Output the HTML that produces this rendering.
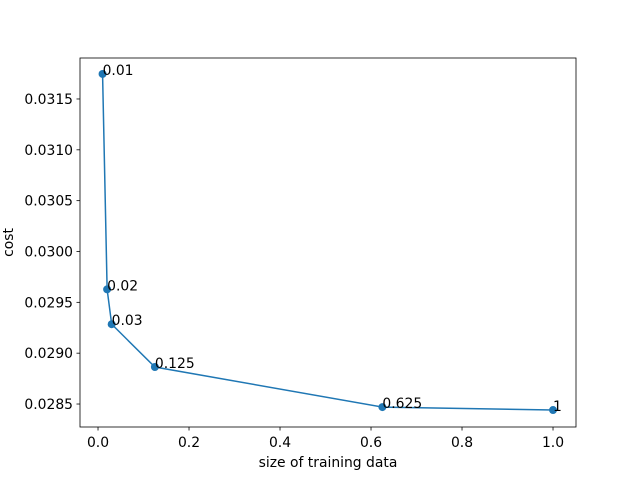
<!DOCTYPE html>
<html><head><meta charset="utf-8"><style>
body{margin:0;background:#fff;}
svg{display:block;font-family:"DejaVu Sans","Liberation Sans",sans-serif;}
</style></head><body>
<svg id="chart" width="640" height="480" xmlns="http://www.w3.org/2000/svg">
<rect x="0" y="0" width="640" height="480" fill="#fff"/>
<g id="plot"></g>
</svg>
<script>
const xValues=[0.01,0.02,0.03,0.125,0.625,1];
const yValues=[0.031746,0.029628,0.029285,0.028864,0.028470,0.028441];
const pointLabels=["0.01","0.02","0.03","0.125","0.625","1"];
const xTicks=[0.0,0.2,0.4,0.6,0.8,1.0];
const xTickLabels=["0.0","0.2","0.4","0.6","0.8","1.0"];
const yTicks=[0.0285,0.0290,0.0295,0.0300,0.0305,0.0310,0.0315];
const yTickLabels=["0.0285","0.0290","0.0295","0.0300","0.0305","0.0310","0.0315"];
const L=80,R=576,T=58,B=427;
const xMin=-0.0396,xMax=1.0505,yMin=0.028274,yMax=0.031903;
const sx=v=>L+(v-xMin)/(xMax-xMin)*(R-L);
const sy=v=>B-(v-yMin)/(yMax-yMin)*(B-T);
const NS="http://www.w3.org/2000/svg";
const FS=13.9;
const g=document.getElementById('plot');
function mk(t,a,txt){const e=document.createElementNS(NS,t);for(const k in a)e.setAttribute(k,a[k]);if(txt!==undefined)e.textContent=txt;g.appendChild(e);return e;}
xTicks.forEach((v,i)=>{
 const t=mk('line',{x1:sx(v),x2:sx(v),y1:B,y2:B+3.5,stroke:'#000','stroke-width':0.8});
 
 
 const l=mk('text',{x:sx(v),y:B+20,'text-anchor':'middle','font-size':FS,fill:'#000'},xTickLabels[i]);
 
 
});
yTicks.forEach((v,i)=>{
 const t=mk('line',{x1:L-3.5,x2:L,y1:sy(v),y2:sy(v),stroke:'#000','stroke-width':0.8});
 
 
 const l=mk('text',{x:L-7,y:sy(v)+5,'text-anchor':'end','font-size':FS,fill:'#000'},yTickLabels[i]);
 
 
});
const line=mk('polyline',{points:xValues.map((x,i)=>sx(x)+','+sy(yValues[i])).join(' '),fill:'none',stroke:'#1f77b4','stroke-width':1.5});


xValues.forEach((x,i)=>{
 const c=mk('circle',{cx:sx(x),cy:sy(yValues[i]),r:4,fill:'#1f77b4'});
 
 
 const a=mk('text',{x:sx(x),y:sy(yValues[i])+1,'font-size':FS,fill:'#000'},pointLabels[i]);
 
 
});
const frame=mk('rect',{x:L,y:T,width:R-L,height:B-T,fill:'none',stroke:'#000','stroke-width':0.8});


const xt=mk('text',{x:(L+R)/2,y:467,'text-anchor':'middle','font-size':FS,fill:'#000'},'size of training data');


const yt=mk('text',{x:13,y:(T+B)/2,'text-anchor':'middle','font-size':FS,fill:'#000',transform:'rotate(-90 13 '+((T+B)/2)+')'},'cost');


</script>
</body></html>
